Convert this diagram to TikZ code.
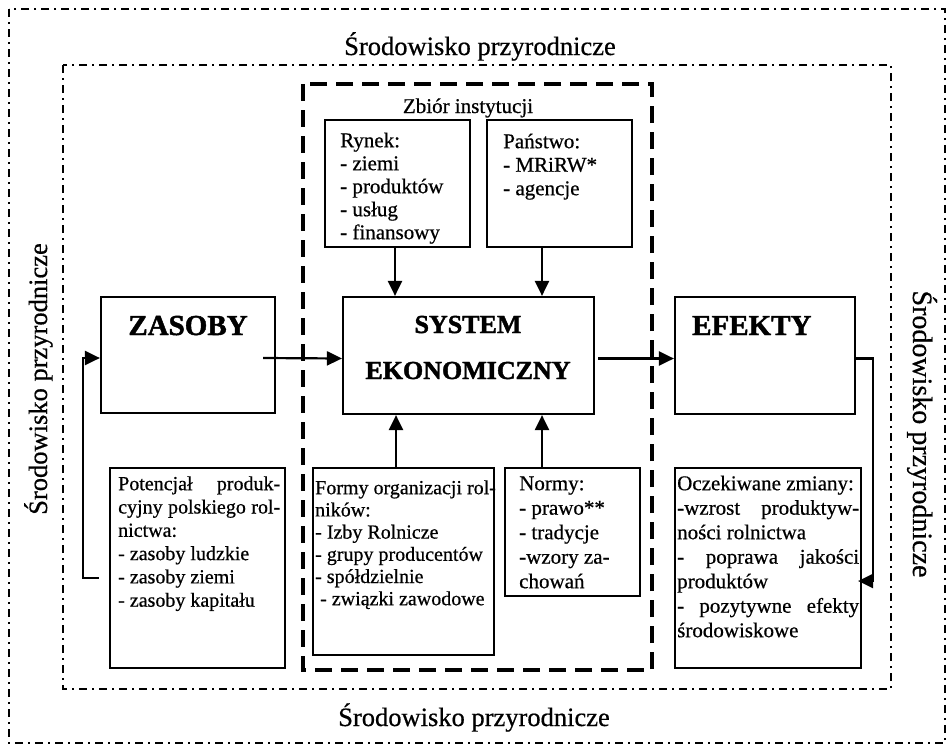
\documentclass[tikz,border=0pt]{standalone}
\usepackage{fontspec}
\setmainfont{Liberation Serif}[UprightFeatures={FakeBold=0.6},BoldFeatures={FakeBold=1.6}]
\usetikzlibrary{arrows.meta,fit}
\newcommand\myst{\rule{0pt}{15pt}}
\begin{document}
\begin{tikzpicture}[x=1pt,y=-1pt,
  box/.style={draw, line width=2.2pt, inner sep=0pt},
  arr/.style={line width=2.2pt, -{Triangle[length=15pt,width=14pt]}},
  dashdot/.style={line width=2.8pt, dash pattern=on 8pt off 5pt on 2pt off 5pt},
  instframe/.style={line width=4pt, dash pattern=on 17pt off 9pt},
  envlbl/.style={inner sep=0pt, font=\fontsize{26.5}{30}\selectfont},
  title/.style={inner sep=0pt, font=\fontsize{29}{32}\selectfont\bfseries},
  systitle/.style={inner sep=0pt, font=\fontsize{26}{30}\selectfont\bfseries},
  body/.style={inner sep=0pt, anchor=north west, align=left},
]
\useasboundingbox (0,0) rectangle (947,744);
% frames
\draw[dashdot] (9,9) rectangle (945,743);
\draw[dashdot, line width=2.5pt] (63,65) rectangle (891,689);
\draw[instframe] (303,84) rectangle (652,670);
% environment labels
\node[envlbl, anchor=base] (envT) at (480,55) {Środowisko przyrodnicze};
\node[envlbl, anchor=base] (envB) at (474,726) {Środowisko przyrodnicze};
\node[envlbl, anchor=base, rotate=90] (envL) at (47,379) {Środowisko przyrodnicze};
\node[envlbl, anchor=base, rotate=-90, font=\fontsize{28}{30}\selectfont] (envR) at (913,434) {Środowisko przyrodnicze};
% boxes
\node[box, fit={(101,297)(275,413)}] (zas) {};
\node[box, fit={(343,297)(594,414)}] (sys) {};
\node[box, fit={(675,297)(855,414)}] (efe) {};
\node[box, fit={(325,120)(470,247)}] (ryn) {};
\node[box, fit={(487,120)(632,247)}] (pan) {};
\node[box, fit={(110,468)(285,668)}] (pot) {};
\node[box, fit={(313,468)(494,655)}] (frm) {};
\node[box, fit={(505,468)(640,596)}] (nrm) {};
\node[box, fit={(675,468)(861,668)}] (ocz) {};
% titles
\node[title, anchor=base] (zasT) at (188,335) {ZASOBY};
\node[systitle, anchor=base] (sysT1) at (468,333) {SYSTEM};
\node[systitle, anchor=base] (sysT2) at (468,379) {EKONOMICZNY};
\node[title, anchor=base west] (efeT) at (692,335) {EFEKTY};
\node[inner sep=0pt, anchor=base, font=\fontsize{21}{23}\selectfont] (zbior) at (468,113) {Zbiór instytucji};
% box texts
\node[body, font=\fontsize{21}{23}\selectfont] (rynT) at (340,132)
  {\myst Rynek:\\- ziemi\\- produktów\\- usług\\- finansowy};
\node[body, font=\fontsize{21}{23.5}\selectfont] (panT) at (503,133)
  {\myst Państwo:\\- MRiRW*\\- agencje};
\node[body, font=\fontsize{20}{23.3}\selectfont] (potT) at (118,475)
  {\myst\makebox[162pt][s]{Potencjał produk-}\\\makebox[162pt][s]{cyjny polskiego rol-}\\nictwa:\\- zasoby ludzkie\\- zasoby ziemi\\- zasoby kapitału};
\node[body, font=\fontsize{20}{22.2}\selectfont] (frmT) at (315,479)
  {\myst Formy organizacji rol-\\ników:\\- Izby Rolnicze\\- grupy producentów\\- spółdzielnie\\\hspace*{5pt}- związki zawodowe};
\node[body, font=\fontsize{21}{24.5}\selectfont] (nrmT) at (519,475)
  {\myst Normy:\\- prawo**\\- tradycje\\-wzory za-\\chowań};
\node[body, font=\fontsize{21}{24.5}\selectfont] (oczT) at (677,475)
  {\myst Oczekiwane zmiany:\\\makebox[182pt][s]{-wzrost produktyw-}\\ności rolnictwa\\\makebox[182pt][s]{- poprawa jakości}\\produktów\\\makebox[182pt][s]{- pozytywne efekty}\\środowiskowe};
% connectors
\draw[arr] ([xshift=-2.5pt]ryn.south) -- ([xshift=-2.5pt]ryn.south |- sys.north);
\draw[arr] ([xshift=-17.5pt]pan.south) -- ([xshift=-17.5pt]pan.south |- sys.north);
\draw[arr] ([xshift=-7.5pt]frm.north) -- ([xshift=-7.5pt]frm.north |- sys.south);
\draw[arr] ([xshift=-30.5pt]nrm.north) -- ([xshift=-30.5pt]nrm.north |- sys.south);
\draw[arr] ([shift={(-13pt,-3pt)}]zas.east) -- ([yshift=-3pt]sys.west);
\draw[arr] ([shift={(3pt,-3pt)}]sys.east) -- ([yshift=-3pt]efe.west);
\coordinate (fbR) at (873,581);
\draw[arr] ([yshift=-3pt]efe.east) -| (fbR) -- ([xshift=-4pt]fbR -| ocz.east);
\coordinate (fbL) at (83,358);
\draw[arr] ([shift={(-10pt,-10pt)}]pot.west) -| (fbL) -- (fbL -| zas.west);
\end{tikzpicture}
\end{document}
